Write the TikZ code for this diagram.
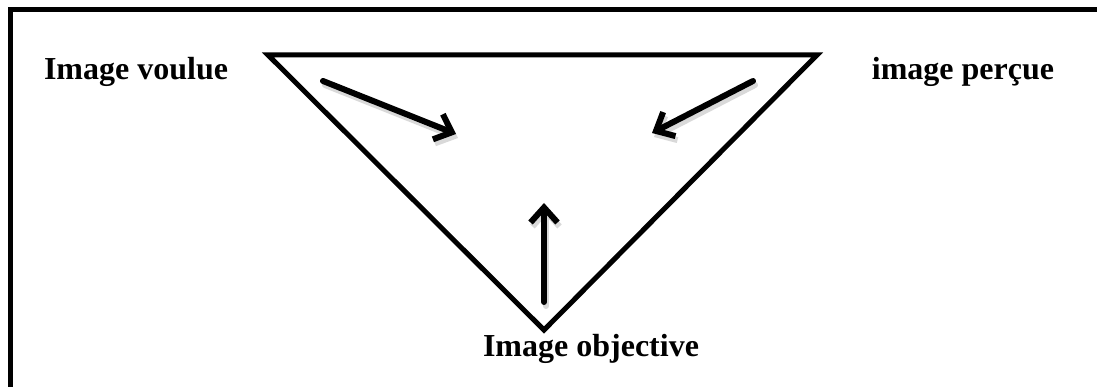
\documentclass[tikz,border=0pt]{standalone}
\usepackage{fontspec}
\setmainfont{Liberation Serif}
\usetikzlibrary{arrows.meta}
\begin{document}
\begin{tikzpicture}[x=1pt,y=-1pt,
  lbl/.style={font=\fontsize{32}{38}\selectfont\bfseries, inner sep=0pt, anchor=base},
  arr/.style={line width=6pt, line cap=round,
    -{Straight Barb[length=15pt,width=27pt,line width=6pt]}},
  arrshadow/.style={arr, draw=black!15, transform canvas={shift={(2pt,-4pt)}}},
  tri/.style={line width=5pt, line join=miter},
  frame/.style={line width=5pt}]
\useasboundingbox (0,0) rectangle (1097,387);
\fill[white] (0,0) rectangle (1097,387);
% outer frame (only top and left edges are inside the picture)
\begin{scope}
\clip (0,0) rectangle (1097,387);
\draw[frame] (10,10) rectangle (1120,420);
\end{scope}
% triangle vertices
\coordinate (tl) at (268,55);
\coordinate (tr) at (817,55);
\coordinate (bt) at (544,330);
\draw[tri] (tl) -- (tr) -- (bt) -- cycle;
% labels
\node[lbl] (voulue) at (136,80) {Image voulue};
\node[lbl] (percue) at (963,80) {image perçue};
\node[lbl] (objective) at (591,356) {Image objective};
% arrow end points
\coordinate (a1s) at (323,81);
\coordinate (a1e) at (456,134);
\coordinate (a2s) at (753,81);
\coordinate (a2e) at (652,133);
\coordinate (a3s) at (544,302);
\coordinate (a3e) at (544,203);
% shadows
\draw[arrshadow] (a1s) -- (a1e);
\draw[arrshadow] (a2s) -- (a2e);
\draw[arrshadow] (a3s) -- (a3e);
% arrows
\draw[arr] (a1s) -- (a1e);
\draw[arr] (a2s) -- (a2e);
\draw[arr] (a3s) -- (a3e);
\end{tikzpicture}
\end{document}
